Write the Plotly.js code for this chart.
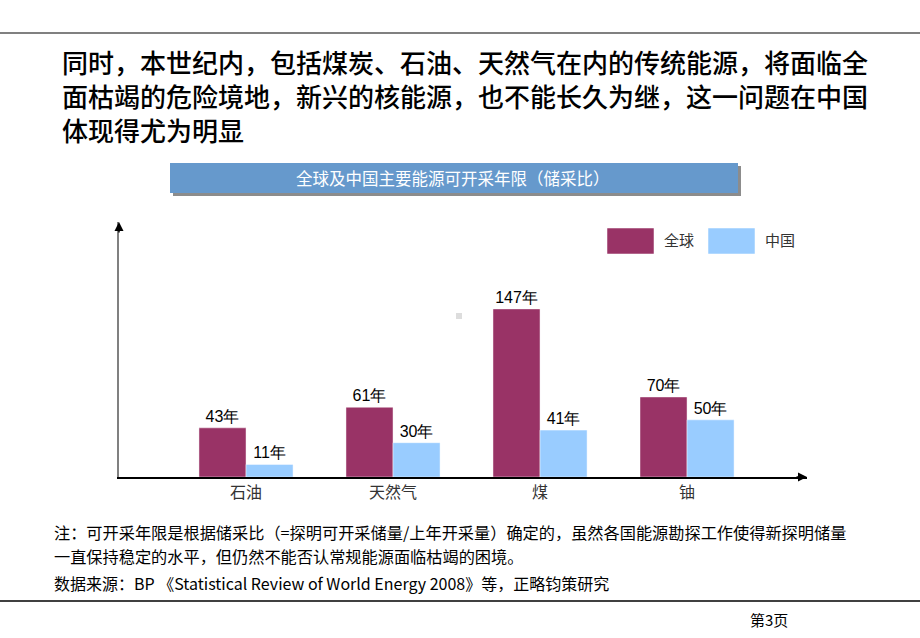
<!DOCTYPE html>
<html>
<head>
<meta charset="utf-8">
<script src="https://cdn.plot.ly/plotly-3.0.1.min.js"></script>
<style>
html,body{margin:0;padding:0;background:#fff;}
#chart{width:920px;height:638px;}
</style>
</head>
<body>
<div id="chart"></div>
<script>
// ---- data ----
const categories = ['石油', '天然气', '煤', '铀'];
const globalYears = [43, 61, 147, 70];
const chinaYears = [11, 30, 41, 50];
const seriesNames = ['全球', '中国'];
const unitSuffix = '年';

const headerLines = [
  '同时，本世纪内，包括煤炭、石油、天然气在内的传统能源，将面临全',
  '面枯竭的危险境地，新兴的核能源，也不能长久为继，这一问题在中国',
  '体现得尤为明显'
];
const chartTitle = '全球及中国主要能源可开采年限（储采比）';
const noteLines = [
  '注：可开采年限是根据储采比（=探明可开采储量/上年开采量）确定的，虽然各国能源勘探工作使得新探明储量',
  '一直保持稳定的水平，但仍然不能否认常规能源面临枯竭的困境。'
];
const sourceText = '数据来源：BP 《Statistical Review of World Energy 2008》等，正略钧策研究';
const pageText = '第3页';

// ---- layout helpers (pixel -> paper) ----
const L = 119, R = 807, T = 222, B = 477;
const W = 920, H = 638;
const px = x => (x - L) / (R - L);
const py = y => (B - y) / (B - T);

const colGlobal = '#993366';
const colChina = '#99CCFF';
const CJK = '"Noto Sans CJK SC", "Noto Sans", sans-serif';
const ARIAL = 'Arial, "Liberation Sans", sans-serif';

const traces = [
  {
    type: 'bar', name: seriesNames[0], x: categories, y: globalYears,
    marker: {color: colGlobal, line: {color: 'rgba(255,255,255,0.45)', width: 1}},
    texttemplate: '%{y}' + unitSuffix, textposition: 'outside',
    textfont: {family: ARIAL, size: 16, color: '#000'}, cliponaxis: false,
    hoverinfo: 'skip'
  },
  {
    type: 'bar', name: seriesNames[1], x: categories, y: chinaYears,
    marker: {color: colChina, line: {color: 'rgba(255,255,255,0.45)', width: 1}},
    texttemplate: '%{y}' + unitSuffix, textposition: 'outside',
    textfont: {family: ARIAL, size: 16, color: '#000'}, cliponaxis: false,
    hoverinfo: 'skip'
  }
];

const shapes = [];
const annotations = [];

// top & bottom rules
shapes.push({type:'line', xref:'paper', yref:'paper', x0:px(0), x1:px(W), y0:py(33), y1:py(33), line:{color:'#808080', width:2}});
shapes.push({type:'line', xref:'paper', yref:'paper', x0:px(0), x1:px(W), y0:py(601), y1:py(601), line:{color:'#000', width:1.5}});

// header text (one block)
annotations.push({xref:'paper', yref:'paper', x:px(60), y:py(95), xanchor:'left', yanchor:'middle', align:'left',
  text:headerLines.join('<br>'), showarrow:false, font:{family:CJK, size:26, color:'#000', weight:500}});

// banner with shadow
shapes.push({type:'rect', xref:'paper', yref:'paper', x0:px(173), x1:px(741), y0:py(166), y1:py(196), fillcolor:'#8c8c8c', line:{width:0}, layer:'below'});
shapes.push({type:'rect', xref:'paper', yref:'paper', x0:px(170), x1:px(738), y0:py(163), y1:py(193), fillcolor:'#6699CC', line:{width:0}, layer:'below'});
annotations.push({xref:'paper', yref:'paper', x:px(453), y:py(178), xanchor:'center', yanchor:'middle',
  text:chartTitle, showarrow:false, font:{family:CJK, size:16.5, color:'#fff'}});

// legend (large swatches)
const legendItems = [
  {name: seriesNames[0], color: colGlobal, x0: 607},
  {name: seriesNames[1], color: colChina, x0: 708}
];
legendItems.forEach(it => {
  shapes.push({type:'rect', xref:'paper', yref:'paper', x0:px(it.x0), x1:px(it.x0+47), y0:py(228), y1:py(254),
    fillcolor:it.color, line:{color:'rgba(255,255,255,0.5)', width:1}});
  annotations.push({xref:'paper', yref:'paper', x:px(it.x0+55), y:py(239), xanchor:'left', yanchor:'middle',
    text:it.name, showarrow:false, font:{family:CJK, size:15, color:'#333'}});
});

// small grey speck
shapes.push({type:'rect', xref:'paper', yref:'paper', x0:px(456), x1:px(462), y0:py(313), y1:py(319), fillcolor:'#dddddd', line:{width:0}});

// axis arrows
annotations.push({xref:'paper', yref:'paper', x:0, y:py(222), ax:0, ay:12, axref:'pixel', ayref:'pixel', text:'',
  showarrow:true, arrowhead:2, arrowsize:1.2, arrowwidth:1.5, arrowcolor:'#000'});
annotations.push({xref:'paper', yref:'paper', x:px(807), y:0, ax:-12, ay:0, axref:'pixel', ayref:'pixel', text:'',
  showarrow:true, arrowhead:2, arrowsize:1.2, arrowwidth:1.5, arrowcolor:'#000'});

// notes
noteLines.forEach((t, i) => {
  annotations.push({xref:'paper', yref:'paper', x:px(52), y:py(532 + i*24), xanchor:'left', yanchor:'middle',
    text:t, showarrow:false, font:{family:CJK, size:16.2, color:'#000'}});
});
annotations.push({xref:'paper', yref:'paper', x:px(52), y:py(583), xanchor:'left', yanchor:'middle',
  text:sourceText, showarrow:false, font:{family:CJK, size:16, color:'#000'}});
annotations.push({xref:'paper', yref:'paper', x:px(769), y:py(619), xanchor:'center', yanchor:'middle',
  text:pageText, showarrow:false, font:{family:CJK, size:15, color:'#000'}});

const layout = {
  width: W, height: H,
  margin: {l: L, r: W - R, t: T, b: H - B, pad: 0},
  paper_bgcolor: '#fff', plot_bgcolor: '#fff',
  showlegend: false,
  barmode: 'group', bargap: 0.36, bargroupgap: 0,
  xaxis: {
    type: 'category', range: [-0.864, 3.816],
    showline: true, linecolor: '#000', linewidth: 1.5,
    showgrid: false, zeroline: false, ticks: '',
    tickfont: {family: CJK, size: 16, color: '#333'}, fixedrange: true
  },
  yaxis: {
    range: [0, 223], showline: true, linecolor: '#808080', linewidth: 2,
    showgrid: false, zeroline: false, showticklabels: false, ticks: '', fixedrange: true
  },
  shapes: shapes,
  annotations: annotations,
  font: {family: CJK}
};

Plotly.newPlot('chart', traces, layout, {displayModeBar: false, staticPlot: true});
</script>
</body>
</html>
